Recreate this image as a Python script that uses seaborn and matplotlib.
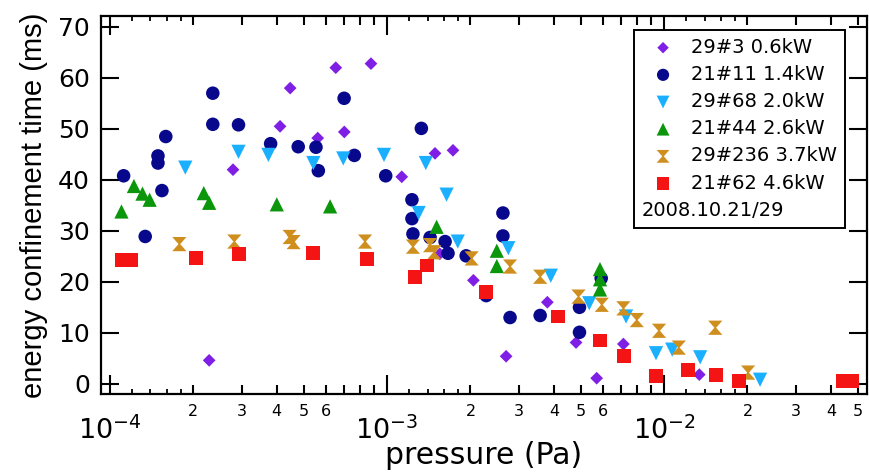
import numpy as np
import pandas as pd
import matplotlib
matplotlib.use("Agg")
import matplotlib.pyplot as plt
import matplotlib.ticker as mticker
import seaborn as sns

# ---------------- data ----------------
series_labels = ["29#3 0.6kW", "21#11 1.4kW", "29#68 2.0kW",
                 "21#44 2.6kW", "29#236 3.7kW", "21#62 4.6kW"]
note_text = "2008.10.21/29"

x_293 = [2.28e-4, 2.78e-4, 4.11e-4, 4.47e-4, 5.62e-4, 6.53e-4, 7.01e-4, 8.75e-4,
         1.13e-3, 1.49e-3, 1.55e-3, 1.73e-3, 2.05e-3, 2.69e-3, 3.79e-3, 4.81e-3,
         5.71e-3, 7.13e-3, 1.34e-2]
y_293 = [4.6, 42.0, 50.5, 58.0, 48.2, 62.0, 49.4, 62.8,
         40.6, 45.2, 25.5, 45.8, 20.3, 5.4, 16.0, 8.1,
         1.1, 7.8, 1.8]

x_2111 = [1.12e-4, 1.34e-4, 1.49e-4, 1.49e-4, 1.54e-4, 1.59e-4, 2.35e-4, 2.35e-4,
          2.91e-4, 3.80e-4, 4.78e-4, 5.54e-4, 5.65e-4, 7.00e-4, 7.62e-4, 9.89e-4,
          1.23e-3, 1.23e-3, 1.24e-3, 1.33e-3, 1.43e-3, 1.62e-3, 1.66e-3, 1.93e-3,
          2.28e-3, 2.62e-3, 2.62e-3, 2.78e-3, 3.57e-3, 4.95e-3, 4.95e-3, 5.93e-3]
y_2111 = [40.8, 28.9, 44.7, 43.3, 37.9, 48.5, 57.0, 50.9,
          50.8, 47.1, 46.5, 46.4, 41.8, 56.0, 44.8, 40.8,
          36.1, 32.4, 29.4, 50.1, 28.7, 27.9, 25.6, 25.1,
          17.3, 33.5, 29.0, 13.0, 13.4, 15.0, 10.1, 20.7]

x_2968 = [1.87e-4, 2.91e-4, 3.73e-4, 5.42e-4, 6.95e-4, 9.75e-4, 1.30e-3, 1.38e-3,
          1.64e-3, 1.80e-3, 2.74e-3, 3.90e-3, 5.37e-3, 7.29e-3, 9.35e-3, 1.07e-2,
          1.35e-2, 2.22e-2]
y_2968 = [42.4, 45.5, 44.9, 43.3, 44.2, 44.9, 33.5, 43.3,
          37.1, 27.9, 26.6, 21.2, 15.8, 13.2, 6.0, 6.7,
          5.2, 0.8]

x_2144 = [1.10e-4, 1.22e-4, 1.31e-4, 1.39e-4, 2.18e-4, 2.28e-4, 4.00e-4, 6.23e-4,
          1.51e-3, 2.49e-3, 2.49e-3, 5.87e-3, 5.87e-3, 5.87e-3]
y_2144 = [33.8, 38.8, 37.3, 36.1, 37.4, 35.5, 35.2, 34.8,
          30.8, 26.1, 23.1, 22.5, 20.5, 18.5]

x_29236 = [1.78e-4, 2.81e-4, 4.45e-4, 4.60e-4, 8.33e-4, 1.24e-3, 1.43e-3, 1.48e-3,
           2.02e-3, 2.78e-3, 3.57e-3, 4.91e-3, 5.96e-3, 7.13e-3, 7.97e-3, 9.59e-3,
           1.13e-2, 1.53e-2, 2.01e-2]
y_29236 = [27.4, 27.9, 28.8, 27.8, 27.9, 26.9, 27.2, 25.8,
           24.6, 23.0, 21.0, 17.1, 15.5, 14.8, 12.5, 10.4,
           7.1, 11.0, 2.2]

x_2162 = [1.105e-4, 1.19e-4, 2.04e-4, 2.93e-4, 5.42e-4, 8.49e-4, 1.26e-3, 1.39e-3,
          2.27e-3, 4.15e-3, 5.87e-3, 7.17e-3, 9.35e-3, 1.22e-2, 1.54e-2, 1.87e-2,
          4.43e-2, 4.77e-2]
y_2162 = [24.3, 24.3, 24.6, 25.5, 25.6, 24.4, 21.0, 23.2,
          18.0, 13.2, 8.5, 5.5, 1.6, 2.7, 1.8, 0.6,
          0.5, 0.5]

y_ticks = [0, 10, 20, 30, 40, 50, 60, 70]
x_major = [1e-4, 1e-3, 1e-2]

# ---------------- style ----------------
sns.set_style("ticks")
plt.rcParams["font.family"] = ["DejaVu Sans"]
plt.rcParams["mathtext.fontset"] = "dejavusans"
for k in ("text.color", "axes.labelcolor", "xtick.color", "ytick.color", "axes.edgecolor"):
    plt.rcParams[k] = "black"

hourglass = [(-1, 1), (1, 1), (0.12, 0), (1, -1), (-1, -1), (-0.12, 0)]

styles = [
    (x_293, y_293, "D", "#7F1FE6", 42),
    (x_2111, y_2111, "o", "#08088C", 95),
    (x_2968, y_2968, "v", "#1AB0FF", 105),
    (x_2144, y_2144, "^", "#0C960C", 105),
    (x_29236, y_29236, hourglass, "#CF8F1F", 105),
    (x_2162, y_2162, "s", "#F41414", 100),
]

fig = plt.figure(figsize=(8.7, 4.74), dpi=100)
ax = fig.add_axes([101 / 870, 1 - 394 / 474, (867 - 101) / 870, (394 - 15.7) / 474])

handles = []
for (xs, ys, mk, col, sz), lab in zip(styles, series_labels):
    df = pd.DataFrame({"p": xs, "t": ys})
    sns.scatterplot(data=df, x="p", y="t", marker=mk, color=col, s=sz,
                    linewidth=0, edgecolor="none", label=lab, ax=ax, legend=False)
    handles.append(ax.collections[-1])

ax.set_xscale("log")
ax.set_xlim(9.28e-5, 5.4e-2)
ax.set_ylim(-2, 72.2)

# tiny ticks (1.2 .. 1.8 of each decade) via a twin axis
ax2 = ax.twiny()
ax2.set_xscale("log")
ax2.set_xlim(ax.get_xlim())
tiny = [m * 10.0 ** e for e in (-4, -3, -2) for m in (1.2, 1.4, 1.6, 1.8)]
ax2.xaxis.set_major_locator(mticker.FixedLocator(tiny))
ax2.xaxis.set_minor_locator(mticker.NullLocator())
ax2.tick_params(axis="x", which="major", direction="in", length=3.5, width=1.3,
                top=True, bottom=True, labeltop=False, labelbottom=False)
for s in ax2.spines.values():
    s.set_visible(False)

# main ticks
ax.xaxis.set_major_locator(mticker.FixedLocator(x_major))
ax.xaxis.set_major_formatter(mticker.LogFormatterMathtext())
minor = [m * 10.0 ** e for e in (-5, -4, -3, -2) for m in range(2, 10)]
ax.xaxis.set_minor_locator(mticker.FixedLocator(minor))


def minor_fmt(v, pos):
    m = int(round(v / 10 ** np.floor(np.log10(v) + 1e-9)))
    return str(m) if 2 <= m <= 6 else ""


ax.xaxis.set_minor_formatter(mticker.FuncFormatter(minor_fmt))
ax.set_yticks(y_ticks)

ax.tick_params(axis="x", which="major", direction="in", length=14, width=1.5,
               top=True, bottom=True, labelsize=19.5, pad=16, color="black")
ax.tick_params(axis="x", which="minor", direction="in", length=6.5, width=1.5,
               top=True, bottom=True, labelsize=11.5, pad=7, color="black")
ax.tick_params(axis="y", which="major", direction="in", length=13, width=1.5,
               left=True, right=True, labelsize=18, pad=8, color="black")
ax.tick_params(axis="y", which="minor", left=False, right=False)

for s in ax.spines.values():
    s.set_visible(True)
    s.set_linewidth(1.6)
    s.set_color("black")

ax.set_xlabel("pressure (Pa)", fontsize=21.5, labelpad=-3)
ax.set_ylabel("energy confinement time (ms)", fontsize=21, labelpad=7,
              family=["Liberation Sans", "DejaVu Sans"])

leg = ax.legend(handles, series_labels, loc="upper right",
                bbox_to_anchor=(0.9713, 0.9622), borderaxespad=0,
                frameon=True, fancybox=False, edgecolor="black", framealpha=1,
                fontsize=14, title=note_text, title_fontsize=14, alignment="left",
                handlelength=2.2, handletextpad=0.35, labelspacing=0.42,
                borderpad=0.4, markerscale=0.9)
leg.get_frame().set_linewidth(1.4)
leg._legend_box._children.reverse()
leg.set_zorder(5)

fig.savefig("out.png", dpi=100)
